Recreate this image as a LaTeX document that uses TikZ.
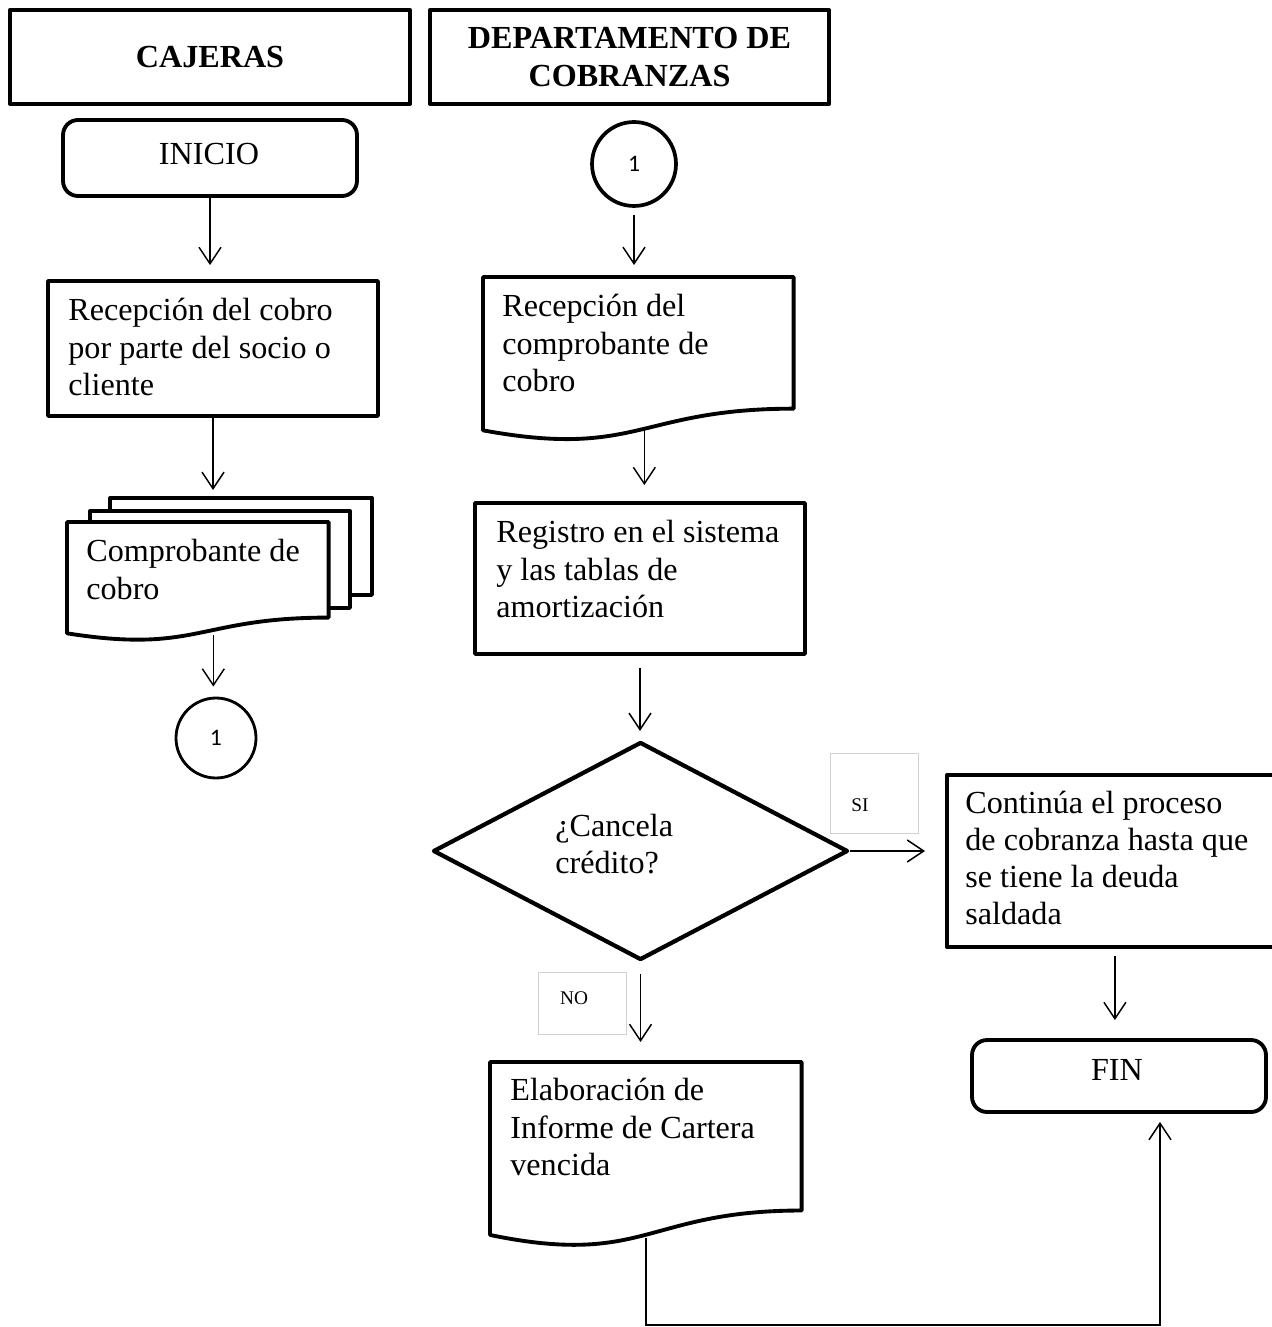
\documentclass[tikz,border=0pt]{standalone}
\usepackage{fontspec}
\setmainfont{Liberation Serif}
\newfontfamily\numfont{Carlito}
\usetikzlibrary{arrows.meta,shapes.geometric,calc}

% document symbol drawn around the frame of a named node
\newcommand{\docshape}[1]{%
  \draw[shape line, fill=white] (#1.north west) -- (#1.north east)
    -- ($(#1.north east)!0.802!(#1.south east)$)
    .. controls ($(#1.north)!0.802!(#1.south)$) and ($(#1.north)!1.1075!(#1.south)$)
    .. ($(#1.north west)!0.934!(#1.south west)$) -- cycle;}

\begin{document}
\begin{tikzpicture}[x=0.02cm,y=-0.02cm,
  shape line/.style={line width=2.2pt, line join=round},
  box/.style={draw, shape line, rectangle, inner sep=0pt},
  rbox/.style={box, rounded corners=0.3cm},
  frame/.style={rectangle, inner sep=0pt},
  conn/.style={draw, circle, inner sep=0pt, line width=1.6pt},
  lbl/.style={draw=black!18, line width=0.5pt, rectangle, inner sep=0pt},
  txt/.style={inner sep=0pt, align=left, font=\fontsize{18.3}{21.2}\selectfont},
  ctxt/.style={inner sep=0pt, align=center, font=\fontsize{18.3}{21.2}\selectfont},
  htxt/.style={ctxt, font=\fontsize{18.3}{21.2}\selectfont\bfseries},
  small/.style={inner sep=0pt, font=\fontsize{11}{13}\selectfont},
  num/.style={inner sep=0pt, font=\numfont\fontsize{13.5}{15}\selectfont},
  arr/.style={-{Straight Barb[length=3.3mm,width=4.4mm,line width=0.85pt]}, line width=0.85pt}
]
\useasboundingbox (0,0) rectangle (1271,1327);

% ---------- lane headers ----------
\node[box, line width=2.4pt, minimum width=8cm, minimum height=1.88cm] (hcaj) at (210,57) {};
\node[htxt] (hcajt) at (210,57) {CAJERAS};
\node[box, line width=2.4pt, minimum width=7.98cm, minimum height=1.88cm] (hdep) at (629.5,57) {};
\node[htxt] (hdept) at (629.5,57) {DEPARTAMENTO DE\\COBRANZAS};

% ---------- CAJERAS lane ----------
\node[rbox, minimum width=5.88cm, minimum height=1.52cm] (inicio) at (210,158) {};
\node[ctxt] (iniciot) at (209,154) {INICIO};

\node[box, minimum width=6.6cm, minimum height=2.7cm] (rcobro) at (213,348.5) {};
\node[txt, anchor=west] (rcobrot) at (68,347) {Recepción del cobro\\por parte del socio o\\cliente};

% stacked documents
\node[box, fill=white, anchor=north west, minimum width=5.24cm, minimum height=1.94cm] (sheetc) at (108,496) {};
\node[box, fill=white, anchor=north west, minimum width=5.2cm, minimum height=1.94cm] (sheetb) at (88,509) {};
\node[frame, anchor=north west, minimum width=5.22cm, minimum height=2.37cm] (comp) at (67,522) {};
\docshape{comp}
\node[txt, anchor=west] (compt) at (86,569.5) {Comprobante de\\cobro};

\node[conn, minimum size=1.6cm] (cona) at (216,738) {};
\node[num] (conat) at (216,738) {1};

% ---------- DEPARTAMENTO DE COBRANZAS lane ----------
\node[conn, line width=2.1pt, minimum size=1.68cm] (conb) at (634,164) {};
\node[num] (conbt) at (634,164) {1};

\node[frame, anchor=north west, minimum width=6.2cm, minimum height=3.27cm] (rcomp) at (483,277) {};
\docshape{rcomp}
\node[txt, anchor=west] (rcompt) at (502,343) {Recepción del\\comprobante de\\cobro};

\node[box, minimum width=6.6cm, minimum height=3.02cm] (reg) at (640,578.5) {};
\node[txt, anchor=west] (regt) at (496,569) {Registro en el sistema\\y las tablas de\\amortización};

\node[draw, shape line, line width=2.4pt, diamond, inner sep=0pt, minimum width=8.3cm, minimum height=4.36cm] (dec) at (640.5,851) {};
\node[txt, anchor=west] (dect) at (555,844) {¿Cancela\\crédito?};

\node[lbl, minimum width=1.76cm, minimum height=1.6cm] (lsi) at (874,793) {};
\node[small] (lsit) at (860,805) {SI};
\node[lbl, minimum width=1.76cm, minimum height=1.24cm] (lno) at (582,1003) {};
\node[small] (lnot) at (574,998) {NO};

\node[box, anchor=north west, minimum width=6.64cm, minimum height=3.44cm] (cont) at (945,773) {};
\node[txt, anchor=west] (contt) at (965,858) {Continúa el proceso\\de cobranza hasta que\\se tiene la deuda\\saldada};

\node[rbox, minimum width=5.88cm, minimum height=1.44cm] (fin) at (1119,1076) {};
\node[ctxt] (fint) at (1117,1070) {FIN};

\node[frame, anchor=north west, minimum width=6.22cm, minimum height=3.69cm] (infor) at (490,1062) {};
\docshape{infor}
\node[txt, anchor=west] (infort) at (510,1127) {Elaboración de\\Informe de Cartera\\vencida};

% lower middle points of the document waves
\coordinate (compb) at ($(comp.north)!0.95!(comp.south)$);
\coordinate (rcompb) at ($(rcomp.north)!0.935!(rcomp.south)$);
\coordinate (inforb) at ($(infor.north)!0.95!(infor.south)$);

% ---------- connectors ----------
\draw[arr, shorten >=0.28cm] (inicio.south) -- (inicio.south |- rcobro.north);
\draw[arr, shorten >=0.12cm] (rcobro.south) -- (rcobro.south |- sheetc.north);
\draw[arr, shorten >=0.2cm] ([xshift=0.31cm]compb) -- ([xshift=0.31cm]compb |- cona.north);

\draw[arr, shorten <=0.14cm, shorten >=0.24cm] (conb.south) -- (conb.south |- rcomp.north);
\draw[arr, shorten >=0.32cm] ([xshift=0.12cm]rcompb) -- ([xshift=0.12cm]rcompb |- reg.north);
\draw[arr, shorten <=0.24cm, shorten >=0.18cm] (reg.south) -- (reg.south |- dec.north);
\draw[arr, shorten >=0.4cm] (dec.east) -- (dec.east -| cont.west);
\draw[arr, shorten <=0.24cm, shorten >=0.4cm] (dec.south) -- (dec.south |- infor.north);
\draw[arr, shorten <=0.14cm, shorten >=0.36cm] ([xshift=0.04cm]cont.south) -- ([xshift=0.04cm]cont.south |- fin.north);
\draw[arr, shorten >=0.16cm] (inforb) -- ++(0,87) -| ([xshift=0.82cm]fin.south);
\end{tikzpicture}
\end{document}
